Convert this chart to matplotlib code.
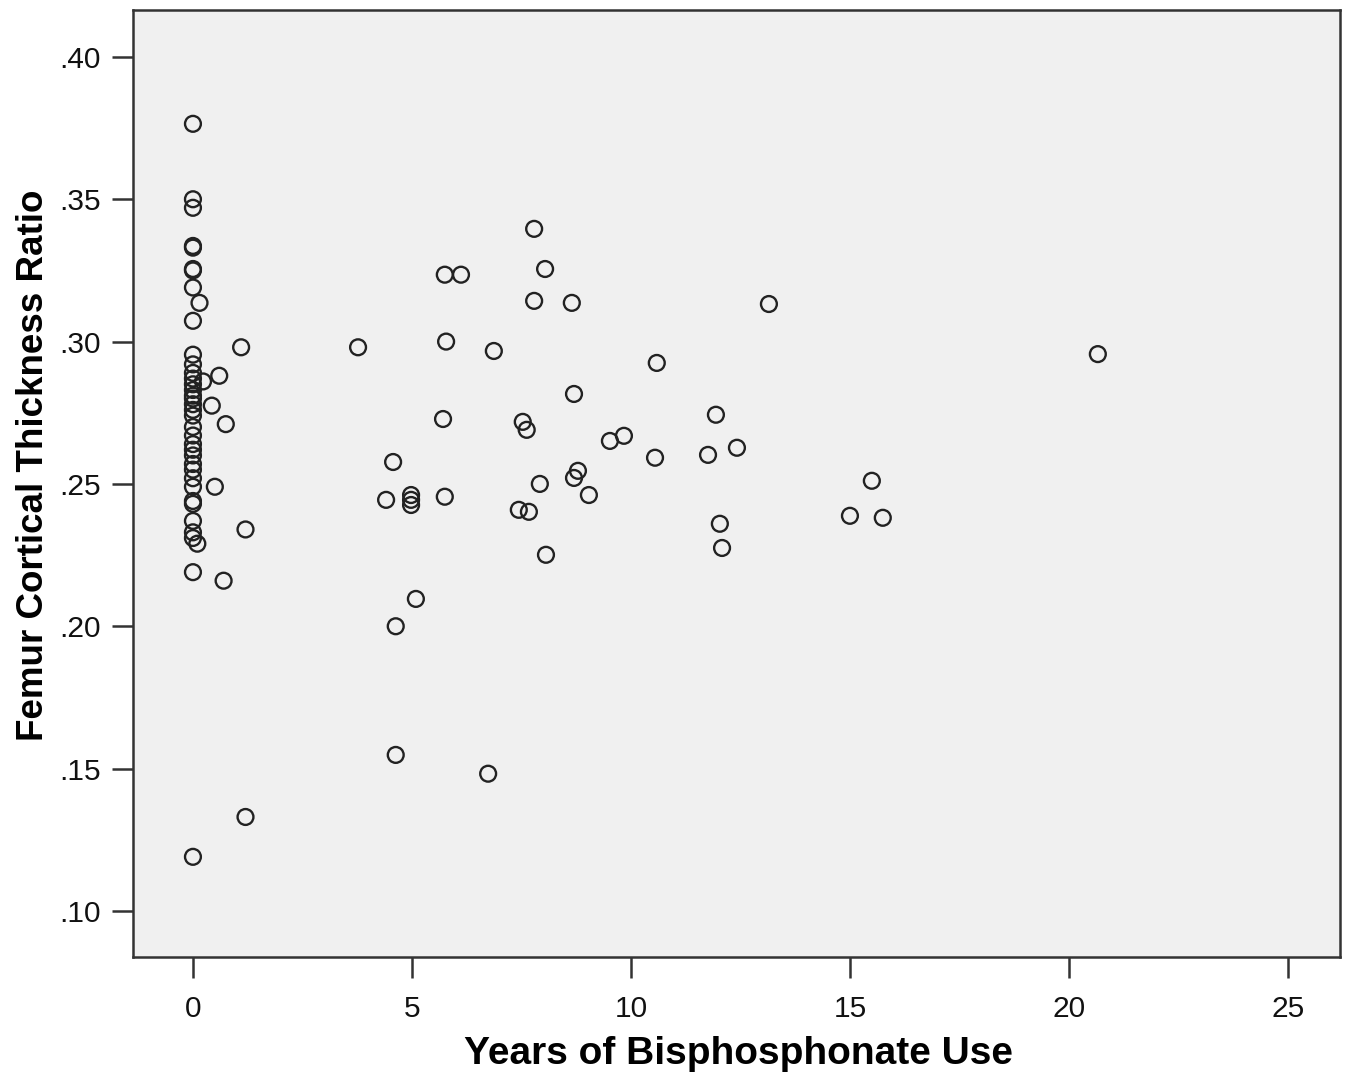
import matplotlib
matplotlib.use("Agg")
import matplotlib.pyplot as plt

# Years of bisphosphonate use (x) and femur cortical thickness ratio (y)
zero_group_y = [
    0.3765, 0.350, 0.347, 0.3336, 0.333, 0.3255, 0.325, 0.319, 0.3073,
    0.2954, 0.292, 0.289, 0.287, 0.285, 0.283, 0.281, 0.280, 0.278,
    0.276, 0.274, 0.270, 0.267, 0.264, 0.262, 0.260, 0.257, 0.255,
    0.252, 0.249, 0.244, 0.243, 0.237, 0.233, 0.231, 0.219, 0.119,
]
near_zero_x = [0.15, 0.1, 1.1, 0.6, 0.23, 0.43, 0.75, 0.5, 1.2, 0.7, 1.2]
near_zero_y = [0.3136, 0.229, 0.298, 0.288, 0.286, 0.2775, 0.271, 0.249, 0.234, 0.216, 0.133]

users_x = [
    3.77, 4.57, 4.41, 4.98, 4.98, 4.98, 4.63, 5.09, 4.63, 5.75, 6.12,
    5.78, 5.71, 5.75, 6.87, 6.74, 7.79, 8.04, 7.79, 8.65, 7.53, 7.62,
    8.70, 7.92, 7.44, 7.67, 8.06, 8.79, 8.70, 9.04, 9.52, 9.84, 10.59,
    10.55, 11.94, 11.76, 12.42, 12.03, 12.08, 13.15, 15.50, 15.0, 15.75,
    20.66,
]
users_y = [
    0.298, 0.2577, 0.2444, 0.2461, 0.2444, 0.2426, 0.200, 0.2096, 0.1548,
    0.3235, 0.3235, 0.300, 0.2728, 0.2455, 0.2967, 0.1482, 0.3396, 0.3255,
    0.3143, 0.3136, 0.2718, 0.2690, 0.2816, 0.250, 0.2409, 0.2402, 0.2251,
    0.2546, 0.2521, 0.2461, 0.2651, 0.2669, 0.2925, 0.2592, 0.2743, 0.2602,
    0.2627, 0.2360, 0.2275, 0.3132, 0.2511, 0.2388, 0.2381, 0.2956,
]

x_ticks = [0, 5, 10, 15, 20, 25]
y_ticks = [0.10, 0.15, 0.20, 0.25, 0.30, 0.35, 0.40]
y_tick_labels = [".10", ".15", ".20", ".25", ".30", ".35", ".40"]

plt.rcParams["font.family"] = ["Liberation Sans", "DejaVu Sans"]

fig = plt.figure(figsize=(13.51, 10.82), dpi=100)
ax = fig.add_axes([0.0984, 0.1155, 0.8935, 0.8753])
ax.set_facecolor("#f0f0f0")

x_all = [0.0] * len(zero_group_y) + near_zero_x + users_x
y_all = zero_group_y + near_zero_y + users_y
ax.scatter(x_all, y_all, s=130, facecolors="none", edgecolors="#222222",
           linewidths=1.7, zorder=3)

ax.set_xlim(-1.37, 26.19)
ax.set_ylim(0.0838, 0.4165)
ax.set_xticks(x_ticks)
ax.set_yticks(y_ticks)
ax.set_yticklabels(y_tick_labels)

for spine in ax.spines.values():
    spine.set_linewidth(1.8)
    spine.set_color("#333333")
ax.tick_params(direction="out", length=15, width=1.8, color="#333333",
               labelsize=21.5, labelcolor="#111111")
ax.tick_params(axis="x", pad=12)
ax.tick_params(axis="y", pad=8)

ax.set_xlabel("Years of Bisphosphonate Use", fontsize=28, fontweight="bold")
ax.set_ylabel("Femur Cortical Thickness Ratio", fontsize=26.5, fontweight="bold")
ax.xaxis.set_label_coords(0.502, -0.083)
ax.yaxis.set_label_coords(-0.068, 0.5195)

fig.savefig("out.png", dpi=100)
